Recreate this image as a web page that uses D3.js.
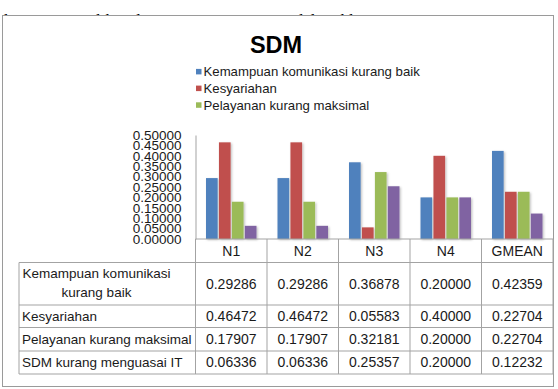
<!DOCTYPE html>
<html>
<head>
<meta charset="utf-8">
<script src="https://cdn.jsdelivr.net/npm/d3@7"></script>
<style>
  body { margin: 0; background: #fff; }
  text { font-family: "Liberation Sans", Arial, sans-serif; fill: #1a1a1a; }
</style>
</head>
<body>
<div class="container"></div>
<script>

const categories = ['N1', 'N2', 'N3', 'N4', 'GMEAN'];
const seriesNames = ['Kemampuan komunikasi kurang baik', 'Kesyariahan', 'Pelayanan kurang maksimal', 'SDM kurang menguasai IT'];
const kemampuan = [0.29286, 0.29286, 0.36878, 0.20000, 0.42359];
const kesyariahan = [0.46472, 0.46472, 0.05583, 0.40000, 0.22704];
const pelayanan = [0.17907, 0.17907, 0.32181, 0.20000, 0.22704];
const sdmIT = [0.06336, 0.06336, 0.25357, 0.20000, 0.12232];
const yTicks = [0, 0.05, 0.1, 0.15, 0.2, 0.25, 0.3, 0.35, 0.4, 0.45, 0.5];
const colors = ['#4f81bd', '#c0504d', '#9bbb59', '#8064a2'];

const series = [kemampuan, kesyariahan, pelayanan, sdmIT];

const width = 558;
const height = 389;
const plotLeft = 195.5, plotRight = 553, plotTop = 135, plotBottom = 239;
const lineColor = '#a3a3a3';
const fmt = d3.format('.5f');

const svg = d3.select('.container')
  .append('svg')
  .attr('width', width)
  .attr('height', height);

// shadow for the bars (excel style)
const defs = svg.append('defs');
const f = defs.append('filter').attr('id', 'shadow').attr('x', '-20%').attr('y', '-20%').attr('width', '150%').attr('height', '150%');
f.append('feDropShadow').attr('dx', 1.2).attr('dy', 1).attr('stdDeviation', 0.8).attr('flood-color', '#000').attr('flood-opacity', 0.25);

// text of the page behind the chart, mostly hidden by the chart box
svg.append('text')
  .attr('x', 427).attr('y', 25.5)
  .attr('text-anchor', 'end')
  .style('font-family', '"Liberation Serif", "Times New Roman", serif')
  .style('font-size', '17px')
  .style('fill', '#000')
  .text('kedua kriteria memiliki nilai prioritas yang sama dalam klaster SDM');

// chart box
svg.append('rect')
  .attr('x', 2.5).attr('y', 15.5)
  .attr('width', 551).attr('height', 371)
  .attr('fill', '#fff')
  .attr('stroke', '#9a9a9a');

// title
svg.append('text')
  .attr('x', 276).attr('y', 52.5)
  .attr('text-anchor', 'middle')
  .style('font-size', '23.5px')
  .style('font-weight', 'bold')
  .style('fill', '#000')
  .text('SDM');

// legend (only 3 entries fit)
const legend = svg.selectAll('.legend')
  .data(seriesNames.slice(0, 3))
  .enter()
  .append('g')
  .attr('class', 'legend')
  .attr('transform', (d, i) => `translate(196, ${71.7 + i * 16.7})`);

legend.append('rect')
  .attr('x', 0).attr('y', -2.8)
  .attr('width', 5.5).attr('height', 5.5)
  .attr('fill', (d, i) => colors[i]);

legend.append('text')
  .attr('x', 7.5).attr('y', 0)
  .attr('dy', '0.35em')
  .style('font-size', '13.2px')
  .text(d => d);

// scales
const xScale = d3.scaleBand()
  .domain(categories)
  .range([plotLeft, plotRight]);

const xInner = d3.scaleBand()
  .domain(d3.range(series.length))
  .range([0, 50.5])
  .paddingInner(0.1);

const yScale = d3.scaleLinear()
  .domain([0, 0.5])
  .range([plotBottom, plotTop]);

// bars
const groups = svg.selectAll('.group')
  .data(categories)
  .enter()
  .append('g')
  .attr('class', 'group')
  .attr('transform', d => `translate(${xScale(d) + (xScale.bandwidth() - 50.5) / 2}, 0)`);

groups.selectAll('rect')
  .data((c, ci) => series.map((s, si) => ({ si: si, v: s[ci] })))
  .enter()
  .append('rect')
  .attr('class', 'bar')
  .attr('x', d => xInner(d.si))
  .attr('y', d => yScale(d.v))
  .attr('width', xInner.bandwidth())
  .attr('height', d => plotBottom - yScale(d.v))
  .attr('fill', d => colors[d.si])
  .attr('filter', 'url(#shadow)');

// y axis
const yAxis = svg.append('g')
  .attr('transform', `translate(${plotLeft}, 0)`)
  .call(d3.axisLeft(yScale).tickValues(yTicks).tickFormat(fmt).tickSize(0).tickPadding(14));

yAxis.select('.domain').attr('stroke', lineColor);
yAxis.selectAll('text')
  .style('font-family', '"Liberation Sans", Arial, sans-serif')
  .style('font-size', '13.5px')
  .style('fill', '#1a1a1a');

// data table
const tableLeft = 19;
const headerH = 23.5;
const rowHeights = [42.5, 22.5, 23.5, 23];
const rowTops = [plotBottom + headerH];
rowHeights.forEach((h, i) => rowTops.push(rowTops[i] + h));

const table = svg.append('g').attr('class', 'table');

// horizontal lines
table.append('line')
  .attr('x1', plotLeft).attr('x2', plotRight)
  .attr('y1', plotBottom).attr('y2', plotBottom);
table.selectAll('.hline')
  .data(rowTops)
  .enter()
  .append('line')
  .attr('class', 'hline')
  .attr('x1', tableLeft).attr('x2', plotRight)
  .attr('y1', d => d).attr('y2', d => d);

// vertical lines
table.append('line')
  .attr('x1', tableLeft).attr('x2', tableLeft)
  .attr('y1', rowTops[0]).attr('y2', rowTops[rowTops.length - 1]);
table.selectAll('.vline')
  .data(categories.map(c => xScale(c)).concat([plotRight]))
  .enter()
  .append('line')
  .attr('class', 'vline')
  .attr('x1', d => d).attr('x2', d => d)
  .attr('y1', plotBottom).attr('y2', rowTops[rowTops.length - 1]);

table.selectAll('line').attr('stroke', lineColor);

// header labels
table.selectAll('.head')
  .data(categories)
  .enter()
  .append('text')
  .attr('class', 'head')
  .attr('x', d => xScale(d) + xScale.bandwidth() / 2)
  .attr('y', plotBottom + headerH / 2)
  .attr('dy', '0.35em')
  .attr('text-anchor', 'middle')
  .style('font-size', '14px')
  .text(d => d);

// row labels
const firstMid = rowTops[0] + rowHeights[0] / 2;
table.append('text')
  .attr('x', 96.5).attr('y', firstMid - 10)
  .attr('dy', '0.35em')
  .attr('text-anchor', 'middle')
  .style('font-size', '13.5px')
  .text('Kemampuan komunikasi');
table.append('text')
  .attr('x', 96.5).attr('y', firstMid + 8.5)
  .attr('dy', '0.35em')
  .attr('text-anchor', 'middle')
  .style('font-size', '13.5px')
  .text('kurang baik');

table.selectAll('.rowlabel')
  .data(seriesNames.slice(1))
  .enter()
  .append('text')
  .attr('class', 'rowlabel')
  .attr('x', tableLeft + 3)
  .attr('y', (d, i) => rowTops[i + 1] + rowHeights[i + 1] / 2)
  .attr('dy', '0.35em')
  .style('font-size', '13.5px')
  .text(d => d);

// values
series.forEach((s, si) => {
  table.selectAll('.val' + si)
    .data(s)
    .enter()
    .append('text')
    .attr('class', 'val' + si)
    .attr('x', (d, ci) => xScale(categories[ci]) + xScale.bandwidth() / 2)
    .attr('y', rowTops[si] + rowHeights[si] / 2)
    .attr('dy', '0.35em')
    .attr('text-anchor', 'middle')
    .style('font-size', '14px')
    .text(d => fmt(d));
});

</script>
</body>
</html>
